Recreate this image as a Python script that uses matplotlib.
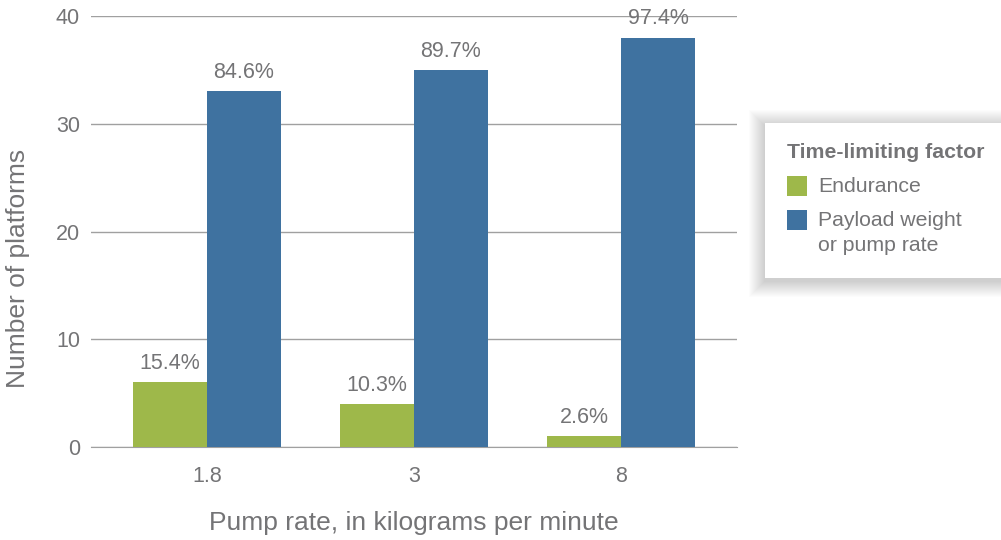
import matplotlib.pyplot as plt
from matplotlib.patches import Rectangle
import numpy as np

plt.rcParams['font.family'] = ['Liberation Sans', 'DejaVu Sans']

# data
pump_rates = ["1.8", "3", "8"]
endurance = [6, 4, 1]
payload = [33, 35, 38]
endurance_pct = ["15.4%", "10.3%", "2.6%"]
payload_pct = ["84.6%", "89.7%", "97.4%"]

green = "#9eb84a"
blue = "#3f72a0"
text_c = "#747476"
grid_c = "#a0a0a0"

fig = plt.figure(figsize=(10.01, 5.4), dpi=100)
ax = fig.add_axes([91 / 1001, 1 - 447 / 540, 646 / 1001, 431 / 540])

x = np.arange(len(pump_rates))
w = 0.357
b1 = ax.bar(x - w / 2, endurance, w, color=green, zorder=3)
b2 = ax.bar(x + w / 2, payload, w, color=blue, zorder=3)

for bars, labels in ((b1, endurance_pct), (b2, payload_pct)):
    for r, lab in zip(bars, labels):
        ax.annotate(lab, (r.get_x() + r.get_width() / 2, r.get_height()),
                    xytext=(0, 6), textcoords="offset points",
                    ha="center", va="bottom", fontsize=15.5, color=text_c)

ax.set_xlim(-0.56, 2.56)
ax.set_ylim(0, 40)
ax.set_yticks([0, 10, 20, 30, 40])
ax.set_xticks(x)
ax.set_xticklabels(pump_rates)
ax.yaxis.grid(True, color=grid_c, linewidth=1, zorder=0)
for s in ("top", "right", "left"):
    ax.spines[s].set_visible(False)
ax.spines["bottom"].set_color(grid_c)
ax.tick_params(length=0, labelsize=15.5, labelcolor=text_c)
ax.tick_params(axis="x", pad=14)
ax.tick_params(axis="y", pad=8)
ax.set_xlabel("Pump rate, in kilograms per minute", fontsize=19,
              color=text_c, labelpad=17)
ax.set_ylabel("Number of platforms", fontsize=19, color=text_c)
ax.yaxis.set_label_coords(-0.094, 0.415)

# legend box with soft shadow
lx, ly, lw, lh = 765 / 1001, 1 - 278 / 540, 240 / 1001, 155 / 540
for i in range(16, 0, -1):
    d = i * 1.0
    fig.patches.append(Rectangle(((765 - d) / 1001, 1 - (278 + d + 3) / 540),
                                 (240 + 2 * d) / 1001, (155 + 2 * d) / 540,
                                 transform=fig.transFigure, facecolor="black",
                                 alpha=0.011, edgecolor="none", zorder=5))
fig.patches.append(Rectangle((lx, ly), lw, lh, transform=fig.transFigure,
                             facecolor="white", edgecolor="none", zorder=6))

def fx(px):
    return px / 1001

def fy(py):
    return 1 - py / 540

fig.text(fx(787), fy(152), "Time-limiting factor", fontsize=15.3,
         fontweight="bold", color=text_c, va="center", zorder=7)
fig.patches.append(Rectangle((fx(787), fy(196)), 20 / 1001, 20 / 540,
                             transform=fig.transFigure, facecolor=green,
                             edgecolor="none", zorder=7))
fig.text(fx(818), fy(186), "Endurance", fontsize=15.3, color=text_c,
         va="center", zorder=7)
fig.patches.append(Rectangle((fx(787), fy(230)), 20 / 1001, 20 / 540,
                             transform=fig.transFigure, facecolor=blue,
                             edgecolor="none", zorder=7))
fig.text(fx(818), fy(220), "Payload weight", fontsize=15.3, color=text_c,
         va="center", zorder=7)
fig.text(fx(818), fy(246), "or pump rate", fontsize=15.3, color=text_c,
         va="center", zorder=7)

fig.savefig("out.png", dpi=100)
